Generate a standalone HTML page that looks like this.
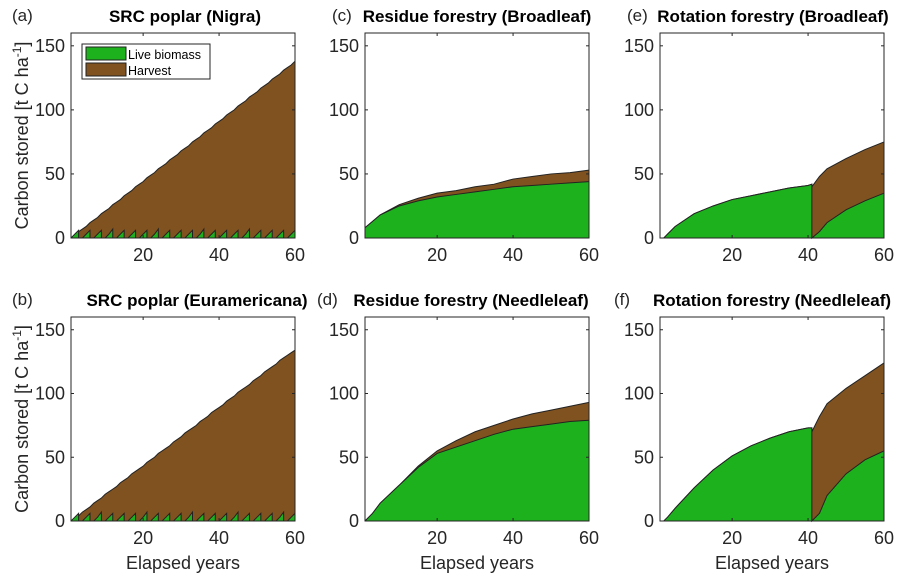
<!DOCTYPE html>
<html><head><meta charset="utf-8"><style>
body{margin:0;background:#fff;}
svg{font-family:"Liberation Sans",sans-serif;}
.tk{font-size:18px;fill:#262626;}
.tt{font-size:17px;font-weight:bold;fill:#000;}
.pl{font-size:17px;fill:#262626;}
</style></head><body>
<svg id="c" width="915" height="581" viewBox="0 0 915 581"></svg>
<script>
const nigraYears = Array.from({length:60},(_,i)=>i+1);
const nigraTotal = [0,2,5,7,9,12,14,16,19,21,23,26,28,30,33,35,37,40,42,44,47,49,51,54,56,58,61,63,65,68,70,72,75,77,79,82,84,86,89,91,93,96,98,100,103,105,107,110,112,114,117,119,121,124,126,128,131,133,135,138];
const nigraLive = [0,3,6,0,3,6,0,3,6,0,3,7,0,3,6,0,3,6,0,3,6,0,3,7,0,3,6,0,3,6,0,3,6,0,3,7,0,3,6,0,3,6,0,3,6,0,3,7,0,3,6,0,3,6,0,3,6,0,3,6];
const euroTotal = [0,2,4,7,9,11,14,16,18,21,23,25,27,30,32,34,37,39,41,43,46,48,50,53,55,57,59,62,64,66,69,71,73,75,78,80,82,85,87,89,91,94,96,98,101,103,105,107,110,112,114,117,119,121,123,126,128,130,132,134];
const euroLive = [0,3,6,0,3,6,0,3,7,0,3,6,0,3,6,0,3,6,0,3,7,0,3,6,0,3,6,0,3,6,0,3,7,0,3,6,0,3,6,0,3,6,0,3,7,0,3,6,0,3,6,0,3,6,0,3,7,0,3,6];
const resBYears = [1,3,5,10,15,20,25,30,35,40,45,50,55,60];
const resBLive  = [8,13,18,25,29,32,34,36,38,40,41,42,43,44];
const resBTotal = [8,13,18,26,31,35,37,40,42,46,48,50,51,53];
const rotBYears = [1,2,3,5,10,15,20,25,30,35,40,41,41,43,45,50,55,60];
const rotBLive  = [0,0,3,9,19,25,30,33,36,39,41,42,0,5,12,22,29,35];
const rotBTotal = [0,0,3,9,19,25,30,33,36,39,41,42,40,48,54,62,69,75];
const resNYears = [1,3,5,10,15,20,25,30,35,40,45,50,55,60];
const resNLive  = [0,6,14,28,42,53,58,63,68,72,74,76,78,79];
const resNTotal = [0,6,14,28,43,55,63,70,75,80,84,87,90,93];
const rotNYears = [1,2,3,5,10,15,20,25,30,35,40,41,41,43,45,50,55,60];
const rotNLive  = [0,0,3,10,26,40,51,59,65,70,73,73,0,6,20,37,48,55];
const rotNTotal = [0,0,3,10,26,40,51,59,65,70,73,73,70,82,92,104,114,124];
const yTicks = [0,50,100,150];
const xTicks = [20,40,60];

const NS="http://www.w3.org/2000/svg";
const svg=document.getElementById('c');
function mk(t,a,p){const e=document.createElementNS(NS,t);for(const k in a)e.setAttribute(k,a[k]);(p||svg).appendChild(e);return e;}

const panels=[
 {L:71,T:33,B:238,lab:'(a)',lx:12,title:'SRC  poplar (Nigra)',tx:185,x:nigraYears,live:nigraLive,tot:nigraTotal,ylab:true,leg:true,name:'panel-a'},
 {L:365,T:33,B:238,lab:'(c)',lx:332,title:'Residue forestry (Broadleaf)',tx:477,x:resBYears,live:resBLive,tot:resBTotal,name:'panel-c'},
 {L:660,T:33,B:238,lab:'(e)',lx:627,title:'Rotation forestry (Broadleaf)',tx:773,x:rotBYears,live:rotBLive,tot:rotBTotal,name:'panel-e'},
 {L:71,T:317,B:521,lab:'(b)',lx:12,title:'SRC  poplar (Euramericana)',tx:197,x:nigraYears,live:euroLive,tot:euroTotal,ylab:true,xlab:true,name:'panel-b'},
 {L:365,T:317,B:521,lab:'(d)',lx:317,title:'Residue forestry (Needleleaf)',tx:471,x:resNYears,live:resNLive,tot:resNTotal,xlab:true,name:'panel-d'},
 {L:660,T:317,B:521,lab:'(f)',lx:614,title:'Rotation forestry (Needleleaf)',tx:772,x:rotNYears,live:rotNLive,tot:rotNTotal,xlab:true,name:'panel-f'}
];
const W=224;
panels.forEach(p=>{
 const g=mk('g',{});
 
 
 const sx=v=>p.L+(v-1)/59*W;
 const sy=v=>p.B-v/160*(p.B-p.T);
 const pts=(arr)=>{const o=[];p.x.forEach((x,i)=>{if(i>0&&arr[i]<arr[i-1]&&p.x[i]!==p.x[i-1])o.push([sx(p.x[i-1]),sy(arr[i])]);o.push([sx(x),sy(arr[i])]);});return o;};
 const area=(arr)=>{let d='M'+sx(p.x[0])+','+sy(0);pts(arr).forEach(q=>d+=' L'+q[0]+','+q[1]);d+=' L'+sx(p.x[p.x.length-1])+','+sy(0)+' Z';return d;};
 const line=(arr)=>{let d='';pts(arr).forEach((q,i)=>d+=(i?' L':'M')+q[0]+','+q[1]);return d;};
 const h=mk('path',{d:area(p.tot),fill:'#7f5220',stroke:'none'},g);
 
 mk('path',{d:line(p.tot),fill:'none',stroke:'#222',"stroke-width":1},g);
 const l=mk('path',{d:area(p.live),fill:'#1db11d',stroke:'none'},g);
 
 mk('path',{d:line(p.live),fill:'none',stroke:'#222',"stroke-width":1},g);
 const ax=mk('rect',{x:p.L,y:p.T,width:W,height:p.B-p.T,fill:'none',stroke:'#262626',"stroke-width":1},g);
 
 yTicks.forEach(v=>{
  mk('line',{x1:p.L,x2:p.L+3,y1:sy(v),y2:sy(v),stroke:'#262626'},g);
  mk('line',{x1:p.L+W,x2:p.L+W-3,y1:sy(v),y2:sy(v),stroke:'#262626'},g);
  const t=mk('text',{x:p.L-6,y:sy(v)+6,class:'tk',"text-anchor":'end'},g);t.textContent=v;
  
 });
 xTicks.forEach(v=>{
  mk('line',{x1:sx(v),x2:sx(v),y1:p.B,y2:p.B-3,stroke:'#262626'},g);
  mk('line',{x1:sx(v),x2:sx(v),y1:p.T,y2:p.T+3,stroke:'#262626'},g);
  const t=mk('text',{x:sx(v),y:p.B+23,class:'tk',"text-anchor":'middle'},g);t.textContent=v;
  
 });
 const lb=mk('text',{x:p.lx,y:p.T-12,class:'pl'},g);lb.textContent=p.lab;
 
 const tt=mk('text',{x:p.tx,y:p.T-11,class:'tt',"text-anchor":'middle'},g);tt.textContent=p.title;
 
 if(p.ylab){
  const yl=mk('text',{x:0,y:0,class:'tk',"text-anchor":'middle',transform:'translate(28,'+((p.T+p.B)/2)+') rotate(-90)'},g);
  yl.innerHTML='Carbon stored [t C ha<tspan dy="-7" font-size="12">-1</tspan><tspan dy="7">]</tspan>';
  
 }
 if(p.xlab){
  const xl=mk('text',{x:p.L+W/2,y:569,class:'tk',"text-anchor":'middle'},g);xl.textContent='Elapsed years';
  
 }
 if(p.leg){
  const lg=mk('g',{},g);
  
  mk('rect',{x:82,y:44,width:128,height:35,fill:'#fff',stroke:'#262626'},lg);
  mk('rect',{x:86,y:47,width:40,height:13,fill:'#1db11d',stroke:'#222'},lg);
  mk('rect',{x:86,y:63,width:40,height:13,fill:'#7f5220',stroke:'#222'},lg);
  const a=mk('text',{x:128,y:59,"font-size":"12.5",fill:'#000'},lg);a.textContent='Live biomass';
  
  const b=mk('text',{x:128,y:75,"font-size":"12.5",fill:'#000'},lg);b.textContent='Harvest';
  
 }
});
</script>
</body></html>
